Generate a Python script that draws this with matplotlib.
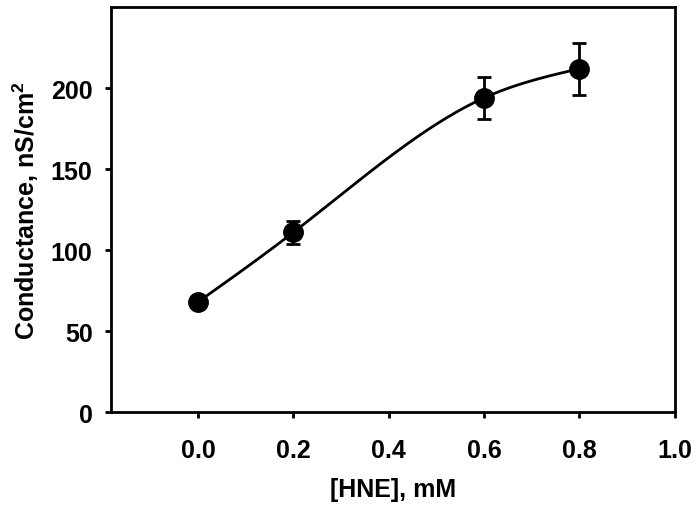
import matplotlib
matplotlib.use("Agg")
import matplotlib.pyplot as plt
import numpy as np

plt.rcParams['font.family'] = ['Liberation Sans', 'DejaVu Sans']
plt.rcParams['font.weight'] = 'bold'
plt.rcParams['mathtext.fontset'] = 'custom'
plt.rcParams['mathtext.bf'] = 'Liberation Sans:bold'
plt.rcParams['mathtext.rm'] = 'Liberation Sans:bold'
plt.rcParams['mathtext.default'] = 'bf'

# data
hne = [0.0, 0.2, 0.6, 0.8]
conductance = [68, 111, 194, 212]
err = [0, 7, 13, 16]

x_ticks = [0.0, 0.2, 0.4, 0.6, 0.8, 1.0]
y_ticks = [0, 50, 100, 150, 200]


def natural_spline(x, y, xs):
    """ natural cubic spline through the points """
    x = np.asarray(x, float)
    y = np.asarray(y, float)
    n = len(x)
    h = np.diff(x)
    A = np.zeros((n, n))
    b = np.zeros(n)
    A[0, 0] = A[-1, -1] = 1
    for i in range(1, n - 1):
        A[i, i - 1] = h[i - 1]
        A[i, i] = 2 * (h[i - 1] + h[i])
        A[i, i + 1] = h[i]
        b[i] = 6 * ((y[i + 1] - y[i]) / h[i] - (y[i] - y[i - 1]) / h[i - 1])
    m = np.linalg.solve(A, b)
    idx = np.clip(np.searchsorted(x, xs) - 1, 0, n - 2)
    t0 = x[idx]
    t1 = x[idx + 1]
    hh = t1 - t0
    a = (t1 - xs) / hh
    c = (xs - t0) / hh
    return (a * y[idx] + c * y[idx + 1]
            + ((a ** 3 - a) * m[idx] + (c ** 3 - c) * m[idx + 1]) * hh ** 2 / 6)


fig = plt.figure(figsize=(7, 5.1), dpi=100)
ax = fig.add_axes([0.159, 0.190, 0.805, 0.794])

xs = np.linspace(min(hne), max(hne), 200)
ax.plot(xs, natural_spline(hne, conductance, xs), color='black', lw=2, zorder=2)

ax.errorbar(hne, conductance, yerr=err, fmt='o', color='black', ms=14,
            capsize=5, capthick=2, elinewidth=2, zorder=3)

ax.set_xlim(-0.182, 1.0)
ax.set_ylim(0, 250)
ax.set_xticks(x_ticks)
ax.set_xticklabels([f"{t:.1f}" for t in x_ticks])
ax.set_yticks(y_ticks)

ax.tick_params(direction='out', length=4.5, width=2, labelsize=18)
ax.tick_params(axis='x', pad=14)
ax.tick_params(axis='y', pad=9)
for s in ax.spines.values():
    s.set_linewidth(2)

ax.set_xlabel('[HNE], mM', fontsize=18, fontweight='bold', labelpad=11)
ax.set_ylabel('Conductance, nS/cm$^2$', fontsize=18, fontweight='bold', labelpad=7)

fig.savefig('out.png', dpi=100)
